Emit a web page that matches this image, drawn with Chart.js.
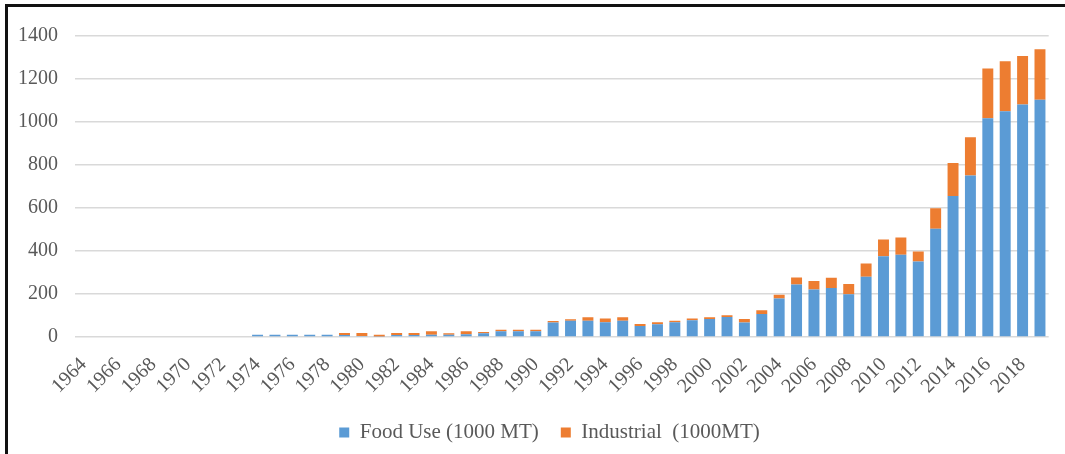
<!DOCTYPE html>
<html>
<head>
<meta charset="utf-8">
<script src="https://cdn.jsdelivr.net/npm/chart.js@4/dist/chart.umd.min.js"></script>
<style>
  html, body { margin: 0; padding: 0; background: #fff; }
  #wrap { position: relative; width: 1065px; height: 454px; overflow: hidden; }
  #frame { position: absolute; left: 5px; top: 4px; width: 1080px; height: 470px;
           border-top: 3px solid #111; border-left: 3px solid #111; pointer-events: none; }
  canvas { position: absolute; left: 0; top: 0; }
</style>
</head>
<body>
<div id="wrap">
  <canvas id="c" width="1065" height="454"></canvas>
  <div id="frame"></div>
</div>
<script>
// Years 1964–2019
const years = [
  1964,1965,1966,1967,1968,1969,1970,1971,1972,1973,
  1974,1975,1976,1977,1978,1979,1980,1981,1982,1983,
  1984,1985,1986,1987,1988,1989,1990,1991,1992,1993,
  1994,1995,1996,1997,1998,1999,2000,2001,2002,2003,
  2004,2005,2006,2007,2008,2009,2010,2011,2012,2013,
  2014,2015,2016,2017,2018,2019
];

// Food use, 1000 MT
const foodUse = [
  0,0,0,0,0,0,0,0,0,0,
  10,10,10,10,10,9,5,2,9,9,
  11,11,13,17,27,27,27,68,76,76,
  69,76,51,59,69,78,84,93,67,107,
  179,244,221,228,199,280,376,383,351,504,
  656,751,1017,1050,1081,1104
];

// Industrial use, 1000 MT
const industrial = [
  0,0,0,0,0,0,0,0,0,0,
  0,0,0,0,0,10,14,9,10,10,
  16,6,14,6,7,7,7,7,6,16,
  17,16,10,10,7,8,8,8,17,18,
  17,33,40,48,47,62,78,80,47,95,
  153,178,232,232,226,234
];

const seriesNames = ['Food Use (1000 MT)', 'Industrial  (1000MT)'];
const yTicks = [0, 200, 400, 600, 800, 1000, 1200, 1400];

const textColor = '#595959';
const gridColor = '#d9d9d9';
const fontFamily = '"Liberation Serif", "Times New Roman", serif';

// Nudge the centred legend row a little to the right of the canvas centre
const legendNudge = {
  id: 'legendNudge',
  afterLayout(chart) {
    const lg = chart.legend;
    if (lg) { lg.left += 16; lg.right += 16; }
  }
};

new Chart(document.getElementById('c'), {
  type: 'bar',
  data: {
    labels: years.map(String),
    datasets: [
      { label: seriesNames[0], data: foodUse, backgroundColor: '#5b9bd5',
        barPercentage: 0.63, categoryPercentage: 1.0 },
      { label: seriesNames[1], data: industrial, backgroundColor: '#ed7d31',
        barPercentage: 0.63, categoryPercentage: 1.0 }
    ]
  },
  plugins: [legendNudge],
  options: {
    responsive: false,
    animation: false,
    layout: { padding: { left: 8, right: 6, top: 36, bottom: 1 } },
    plugins: {
      tooltip: { enabled: false },
      legend: {
        position: 'bottom',
        labels: {
          color: textColor,
          font: { family: fontFamily, size: 21 },
          boxWidth: 10,
          boxHeight: 10,
          padding: 22
        }
      }
    },
    scales: {
      x: {
        stacked: true,
        grid: { display: false },
        border: { display: false },
        afterFit: (s) => { s.height = 63; },
        ticks: {
          color: textColor,
          font: { family: fontFamily, size: 20 },
          autoSkip: false,
          maxRotation: 45,
          minRotation: 45,
          padding: 8,
          callback: function (v, i) { return i % 2 === 0 ? years[i] : ''; }
        }
      },
      y: {
        stacked: true,
        min: yTicks[0],
        max: yTicks[yTicks.length - 1],
        afterBuildTicks: (s) => { s.ticks = yTicks.map(v => ({ value: v })); },
        afterFit: (s) => { s.width = 67; },
        grid: { color: gridColor, lineWidth: 1.5, drawTicks: false },
        border: { display: false },
        ticks: {
          color: textColor,
          font: { family: fontFamily, size: 20 },
          padding: 17,
          callback: (v) => String(v)
        }
      }
    }
  }
});
</script>
</body>
</html>
